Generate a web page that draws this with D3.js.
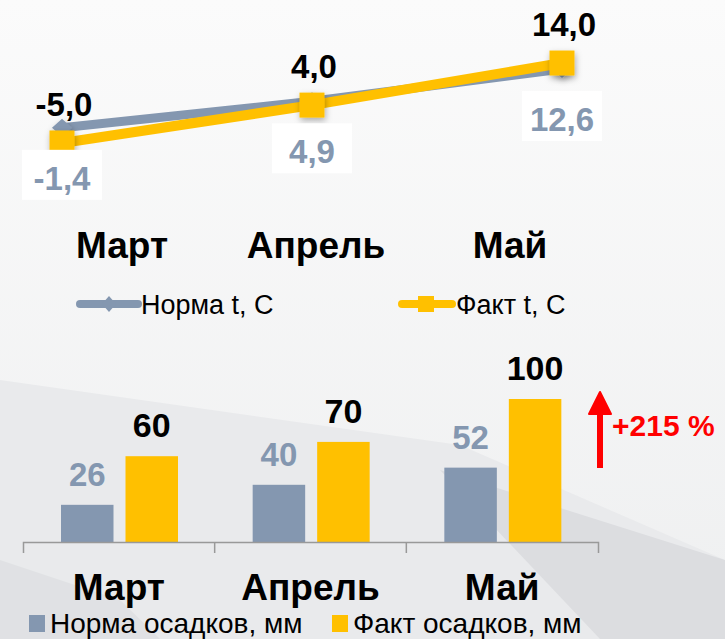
<!DOCTYPE html>
<html>
<head>
<meta charset="utf-8">
<script src="https://cdn.jsdelivr.net/npm/d3@7"></script>
<style>
  body { margin: 0; background: #f7f7f7; }
  text { font-family: "Liberation Sans", Arial, sans-serif; }
</style>
</head>
<body>
<script>
// data
var months = ["Март", "Апрель", "Май"];
var tempNorm = [-1.4, 4.9, 12.6];   // Норма t, С
var tempFact = [-5.0, 4.0, 14.0];   // Факт t, С
var rainNorm = [26, 40, 52];        // Норма осадков, мм
var rainFact = [60, 70, 100];       // Факт осадков, мм
var rainKeys = ["norm", "fact"];
var growthLabel = "+215 %";

var GRAY = "#8497b0", YELLOW = "#ffc000";
// 1 decimal, comma separator, plain hyphen for minus
var fmt = function(v) { return d3.format(".1f")(v).replace(".", ",").replace("\u2212", "-"); };

var svg = d3.select("body").append("svg")
  .attr("width", 725)
  .attr("height", 639);

var defs = svg.append("defs");
var bg = defs.append("linearGradient").attr("id", "bg")
  .attr("x1", 0).attr("y1", 0).attr("x2", 0).attr("y2", 1);
bg.append("stop").attr("offset", "0%").attr("stop-color", "#fbfbfb");
bg.append("stop").attr("offset", "100%").attr("stop-color", "#eeeff0");
var sh = defs.append("filter").attr("id", "shadow")
  .attr("x", "-50%").attr("y", "-50%").attr("width", "200%").attr("height", "200%");
sh.append("feDropShadow").attr("dx", 1).attr("dy", 3).attr("stdDeviation", 3)
  .attr("flood-color", "#000").attr("flood-opacity", 0.3);

// background
svg.append("rect").attr("width", 725).attr("height", 639).attr("fill", "url(#bg)");
svg.append("polygon")
  .attr("points", "0,380 460,445 725,560 725,639 0,639")
  .attr("fill", "#e9eaec");
svg.append("polygon")
  .attr("points", "440,470 725,560 725,639 600,639")
  .attr("fill", "#dcdde0");
svg.append("polygon")
  .attr("points", "0,560 120,600 160,639 0,639")
  .attr("fill", "#e0e1e4");

// ---------- line chart (temperature) ----------
var xl = d3.scalePoint().domain(months).range([62, 562]);
var yl = d3.scaleLinear().domain([-10, 20]).range([164, 37.8]);

var line = d3.line()
  .x(function(d, i) { return xl(months[i]); })
  .y(function(d) { return yl(d); });

svg.append("path").datum(tempNorm)
  .attr("d", line)
  .attr("fill", "none")
  .attr("stroke", GRAY)
  .attr("stroke-width", 9);

svg.selectAll(".dNorm").data(tempNorm).enter().append("path")
  .attr("class", "dNorm")
  .attr("transform", function(d, i) { return "translate(" + xl(months[i]) + "," + yl(d) + ")"; })
  .attr("d", "M0,-9L10,0L0,9L-10,0Z")
  .attr("fill", GRAY)
  .attr("filter", "url(#shadow)");

svg.append("path").datum(tempFact)
  .attr("d", line)
  .attr("fill", "none")
  .attr("stroke", YELLOW)
  .attr("stroke-width", 10);

svg.selectAll(".sqFact").data(tempFact).enter().append("rect")
  .attr("class", "sqFact")
  .attr("x", function(d, i) { return xl(months[i]) - 12.5; })
  .attr("y", function(d) { return yl(d) - 12.5; })
  .attr("width", 25)
  .attr("height", 25)
  .attr("fill", YELLOW)
  .attr("filter", "url(#shadow)");

// norm labels with white boxes
var nl = svg.selectAll(".nLab").data(tempNorm).enter().append("g").attr("class", "nLab");
nl.append("rect")
  .attr("x", function(d, i) { return xl(months[i]) - 40; })
  .attr("y", function(d) { return yl(d) + 22; })
  .attr("width", 80)
  .attr("height", 50)
  .attr("fill", "#fff");
nl.append("text")
  .attr("x", function(d, i) { return xl(months[i]); })
  .attr("y", function(d) { return yl(d) + 62; })
  .attr("text-anchor", "middle")
  .style("font-size", "33px")
  .style("font-weight", "bold")
  .style("fill", GRAY)
  .text(fmt);

svg.selectAll(".fLab").data(tempFact).enter().append("text")
  .attr("x", function(d, i) { return xl(months[i]) + 2; })
  .attr("y", function(d) { return yl(d) - 27; })
  .attr("text-anchor", "middle")
  .style("font-size", "33px")
  .style("font-weight", "bold")
  .style("fill", "#000")
  .text(fmt);

// month labels of the line chart
var xm = d3.scalePoint().domain(months).range([122, 510]);
svg.selectAll(".mTop").data(months).enter().append("text")
  .attr("x", function(d) { return xm(d); })
  .attr("y", 258)
  .attr("text-anchor", "middle")
  .style("font-size", "37px")
  .style("font-weight", "bold")
  .text(function(d) { return d; });

// legend of the line chart
var lg1 = svg.append("g");
lg1.append("line").attr("x1", 80).attr("x2", 138).attr("y1", 304).attr("y2", 304)
  .attr("stroke", GRAY).attr("stroke-width", 8).attr("stroke-linecap", "round");
lg1.append("path").attr("transform", "translate(109,304)")
  .attr("d", "M0,-8L7,0L0,8L-7,0Z").attr("fill", GRAY);
lg1.append("text").attr("x", 141).attr("y", 314)
  .style("font-size", "27px").text("Норма t, С");
lg1.append("line").attr("x1", 402).attr("x2", 452).attr("y1", 304).attr("y2", 304)
  .attr("stroke", YELLOW).attr("stroke-width", 8).attr("stroke-linecap", "round");
lg1.append("rect").attr("x", 418).attr("y", 296).attr("width", 16).attr("height", 16)
  .attr("fill", YELLOW);
lg1.append("text").attr("x", 456).attr("y", 314)
  .style("font-size", "27px").text("Факт t, С");

// ---------- bar chart (precipitation) ----------
var x0 = d3.scaleBand().domain(months).range([23, 598]);
var x1 = d3.scaleBand().domain(rainKeys).range([38, 155]).paddingInner(0.186);
var yb = d3.scaleLinear().domain([0, 100]).range([542, 399]);

var rows = months.map(function(m, i) {
  return { month: m, values: [
    { key: "norm", v: rainNorm[i] },
    { key: "fact", v: rainFact[i] }
  ] };
});

var grp = svg.selectAll(".grp").data(rows).enter().append("g")
  .attr("class", "grp")
  .attr("transform", function(d) { return "translate(" + x0(d.month) + ",0)"; });

grp.selectAll("rect").data(function(d) { return d.values; }).enter().append("rect")
  .attr("x", function(d) { return x1(d.key); })
  .attr("y", function(d) { return yb(d.v); })
  .attr("width", x1.bandwidth())
  .attr("height", function(d) { return yb(0) - yb(d.v); })
  .attr("fill", function(d) { return d.key == "norm" ? GRAY : YELLOW; });

grp.selectAll("text").data(function(d) { return d.values; }).enter().append("text")
  .attr("x", function(d) { return x1(d.key) + x1.bandwidth() / 2; })
  .attr("y", function(d) { return yb(d.v) - 19; })
  .attr("text-anchor", "middle")
  .style("font-size", function(d) { return d.key == "norm" ? "33px" : "34px"; })
  .style("font-weight", "bold")
  .style("fill", function(d) { return d.key == "norm" ? GRAY : "#000"; })
  .text(function(d) { return d.v; });

// axis
var axis = svg.append("g").attr("transform", "translate(0,542)")
  .call(d3.axisBottom(x0).tickValues([]).tickSizeOuter(11));
axis.select(".domain").attr("stroke", "#999").attr("stroke-width", 1.5);
svg.selectAll(".sep").data(months.slice(1)).enter().append("line")
  .attr("x1", function(d) { return x0(d); })
  .attr("x2", function(d) { return x0(d); })
  .attr("y1", 542).attr("y2", 553)
  .attr("stroke", "#999").attr("stroke-width", 1.5);

svg.selectAll(".mBot").data(months).enter().append("text")
  .attr("x", function(d) { return x0(d) + x0.bandwidth() / 2; })
  .attr("y", 600)
  .attr("text-anchor", "middle")
  .style("font-size", "37px")
  .style("font-weight", "bold")
  .text(function(d) { return d; });

// legend of the bar chart
var lg2 = svg.append("g");
lg2.append("rect").attr("x", 29).attr("y", 615).attr("width", 16).attr("height", 17).attr("fill", GRAY);
lg2.append("text").attr("x", 50).attr("y", 633).style("font-size", "28px").text("Норма осадков, мм");
lg2.append("rect").attr("x", 332).attr("y", 615).attr("width", 16).attr("height", 17).attr("fill", YELLOW);
lg2.append("text").attr("x", 353).attr("y", 633).style("font-size", "28px").text("Факт осадков, мм");

// growth arrow
svg.append("line").attr("x1", 600).attr("x2", 600).attr("y1", 468).attr("y2", 400)
  .attr("stroke", "#ff0000").attr("stroke-width", 6);
svg.append("path").attr("d", "M589,414L600,392L611,414Z")
  .attr("fill", "#ff0000").attr("stroke", "#ff0000").attr("stroke-width", 2)
  .attr("stroke-linejoin", "round");
svg.append("text").attr("x", 612).attr("y", 436)
  .style("font-size", "30px").style("font-weight", "bold").style("fill", "#ff0000")
  .text(growthLabel);
</script>
</body>
</html>
